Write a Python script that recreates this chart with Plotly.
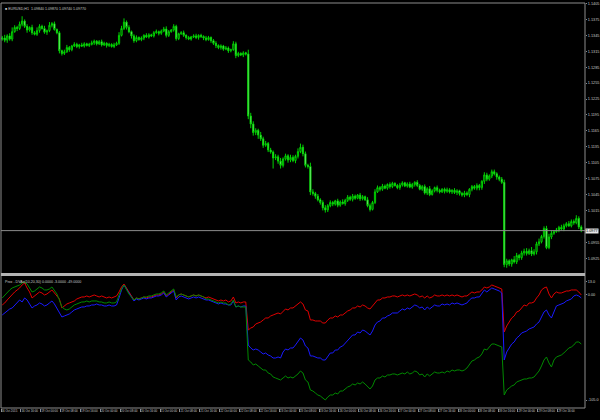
import plotly.graph_objects as go

symbol_title = "EURUSD,H1"
indicator_title = "Prox - DVAs(10,20,30)"

first_open = 1.1338
close = [
    1.1340, 1.1336, 1.1344, 1.1338, 1.1352, 1.1360, 1.1358, 1.1366, 1.1372, 1.1362,
    1.1355, 1.1360, 1.1350, 1.1347, 1.1354, 1.1362, 1.1358, 1.1351, 1.1354, 1.1364,
    1.1367, 1.1356, 1.1350, 1.1316, 1.1311, 1.1314, 1.1322, 1.1318, 1.1325, 1.1328,
    1.1324, 1.1327, 1.1325, 1.1329, 1.1326, 1.1328, 1.1331, 1.1334, 1.1329, 1.1333,
    1.1327, 1.1330, 1.1326, 1.1328, 1.1324, 1.1327, 1.1330, 1.1345, 1.1358, 1.1370,
    1.1360, 1.1352, 1.1344, 1.1335, 1.1341, 1.1337, 1.1340, 1.1345, 1.1342, 1.1346,
    1.1344, 1.1350, 1.1352, 1.1349, 1.1353, 1.1357, 1.1345, 1.1352, 1.1355, 1.1362,
    1.1339, 1.1348, 1.1350, 1.1345, 1.1341, 1.1338, 1.1342, 1.1344, 1.1341, 1.1345,
    1.1343, 1.1340, 1.1337, 1.1341, 1.1335, 1.1330, 1.1326, 1.1322, 1.1325, 1.1319,
    1.1321, 1.1316, 1.1318, 1.1329, 1.1307, 1.1311, 1.1308, 1.1312, 1.1310, 1.1193,
    1.1178, 1.1162, 1.1166, 1.1157, 1.1150, 1.1138, 1.1141, 1.1129, 1.1125, 1.1114,
    1.1116, 1.1108, 1.1100, 1.1112, 1.1118, 1.1110, 1.1115, 1.1109, 1.1117, 1.1126,
    1.1134, 1.1122, 1.1100, 1.1098, 1.1050, 1.1047, 1.1042, 1.1035, 1.1030, 1.1020,
    1.1016, 1.1024, 1.1030, 1.1027, 1.1033, 1.1025, 1.1031, 1.1028, 1.1034, 1.1040,
    1.1036, 1.1042, 1.1038, 1.1044, 1.1037, 1.1041, 1.1035, 1.1024, 1.1017, 1.1030,
    1.1050, 1.1058, 1.1055, 1.1061, 1.1057, 1.1064, 1.1060, 1.1066, 1.1062, 1.1058,
    1.1063, 1.1067, 1.1061, 1.1065, 1.1059, 1.1064, 1.1068, 1.1062, 1.1055, 1.1060,
    1.1048, 1.1056, 1.1045, 1.1052, 1.1058, 1.1053, 1.1050, 1.1055, 1.1051, 1.1054,
    1.1050, 1.1053, 1.1049, 1.1052, 1.1047, 1.1044, 1.1048, 1.1045, 1.1055, 1.1060,
    1.1057, 1.1062, 1.1058, 1.1070, 1.1082, 1.1074, 1.1080, 1.1088, 1.1084, 1.1078,
    1.1074, 1.1068, 1.0913, 1.0920, 1.0914, 1.0922, 1.0918, 1.0930, 1.0926, 1.0935,
    1.0938, 1.0934, 1.0939, 1.0933, 1.0937, 1.0952, 1.0956, 1.0966, 1.0981, 1.0945,
    1.0965, 1.0972, 1.0975, 1.0978, 1.0983, 1.0980, 1.0986, 1.0990, 1.0986, 1.0994,
    1.0992, 1.1000, 1.0984, 1.0977,
]
upper_wick_pips = [
    4, 6, 3, 5, 8, 4, 3, 5, 9, 3,
    4, 2, 5, 3, 6, 4, 3, 5, 2, 6,
    3, 4, 2, 3, 2, 4, 5, 3, 2, 4,
    3, 2, 4, 3, 2, 3, 4, 3, 2, 3,
    4, 3, 2, 3, 2, 4, 3, 6, 5, 7,
    3, 4, 2, 3, 4, 2, 3, 2, 4, 3,
    2, 3, 4, 2, 3, 4, 5, 3, 2, 4,
    3, 2, 3, 4, 2, 3, 2, 3, 4, 2,
    3, 2, 4, 3, 2, 3, 4, 2, 3, 2,
    4, 3, 2, 5, 4, 3, 2, 3, 2, 8,
    6, 5, 4, 3, 6, 4, 5, 3, 4, 3,
    5, 4, 6, 3, 4, 3, 5, 4, 3, 6,
    7, 5, 4, 3, 7, 5, 3, 4, 3, 4,
    5, 3, 4, 3, 2, 4, 3, 5, 3, 4,
    3, 4, 3, 2, 4, 3, 2, 5, 4, 3,
    5, 4, 3, 4, 3, 2, 4, 3, 2, 3,
    4, 3, 2, 3, 4, 3, 2, 4, 3, 3,
    4, 3, 5, 3, 2, 4, 3, 2, 3, 4,
    3, 2, 4, 3, 2, 3, 4, 3, 2, 3,
    3, 4, 3, 2, 5, 4, 3, 4, 4, 3,
    3, 4, 5, 4, 3, 2, 7, 5, 3, 4,
    5, 6, 4, 7, 5, 4, 6, 3, 4, 5,
    6, 5, 3, 4, 3, 5, 4, 3, 5, 4,
    4, 6, 4, 3,
]
lower_wick_pips = [
    3, 4, 5, 3, 4, 2, 5, 3, 4, 3,
    5, 3, 4, 2, 3, 4, 2, 3, 5, 3,
    4, 2, 3, 5, 4, 3, 2, 4, 3, 2,
    3, 4, 2, 3, 2, 3, 2, 4, 3, 2,
    3, 2, 4, 3, 2, 3, 2, 3, 2, 3,
    4, 3, 5, 4, 3, 2, 3, 4, 2, 3,
    2, 3, 2, 4, 3, 2, 4, 3, 2, 3,
    4, 3, 2, 3, 4, 2, 3, 2, 3, 4,
    3, 4, 3, 2, 4, 3, 5, 3, 4, 3,
    2, 4, 3, 2, 5, 3, 2, 4, 3, 6,
    8, 6, 5, 7, 4, 5, 3, 4, 3, 20,
    4, 5, 6, 4, 3, 5, 4, 3, 5, 4,
    3, 5, 4, 4, 6, 4, 5, 3, 4, 5,
    5, 4, 3, 4, 3, 4, 3, 2, 4, 3,
    3, 4, 3, 2, 4, 3, 2, 3, 4, 2,
    3, 2, 4, 3, 2, 3, 4, 3, 2, 3,
    4, 3, 2, 3, 2, 3, 4, 3, 2, 3,
    3, 4, 3, 2, 3, 4, 3, 2, 4, 3,
    3, 4, 3, 5, 4, 3, 4, 3, 5, 4,
    3, 4, 5, 4, 5, 4, 3, 4, 3, 5,
    4, 3, 5, 6, 4, 5, 3, 4, 5, 4,
    5, 4, 3, 4, 3, 5, 4, 3, 4, 3,
    3, 4, 3, 2, 4, 3, 4, 3, 2, 3,
    4, 3, 4, 3,
]

red_line = [
    -10, -8, -5, -2, 1, 3, 5, 7, 10, 12,
    7, 3, -3, -1, 1, 3, 2, 0, 1, 3,
    5, 2, -1, -4, -13, -11, -9, -8, -7, -6,
    -4, -3, -2, -2, -1, -2, -1, 0, -1, -2,
    -1, -2, -3, -2, -3, -2, -1, 3, 8, 11,
    7, 4, 0, -5, -3, -4, -3, -2, -3, -2,
    -2, -1, 0, 0, 1, 3, -1, 1, 3, 5,
    -3, 0, 1, 0, -1, -2, -1, 0, -1, 0,
    -1, -2, -3, -2, -3, -4, -5, -6, -5, -6,
    -5, -7, -6, -2, -8, -7, -8, -7, -7, -35,
    -33, -32, -29, -28, -27, -25, -23, -23, -21, -20,
    -19, -18, -19, -16, -14, -15, -13, -13, -11, -9,
    -7, -9, -15, -16, -25, -25, -26, -26, -26, -28,
    -28, -25, -23, -23, -21, -22, -20, -20, -18, -16,
    -15, -13, -13, -11, -12, -10, -11, -13, -14, -11,
    -7, -5, -5, -3, -3, -2, -2, -1, -1, -2,
    -1, 0, -1, 0, -1, 0, 1, 0, -2, -1,
    -3, -1, -3, -2, 0, -1, -1, 0, -1, 0,
    -1, 0, -1, 0, -1, -2, -1, -1, 1, 3,
    2, 3, 3, 5, 8, 7, 8, 10, 9, 8,
    7, 6, -37, -31, -27, -23, -21, -17, -16, -13,
    -10, -11, -8, -8, -7, -3, 0, 5, 7, 8,
    1, -3, 1, 3, 2, 2, 3, 4, 4, 5,
    5, 5, 3, 0,
]
blue_line = [
    -20, -18, -16, -14, -13, -10, -7, -5, -7, -3,
    -5, -9, -13, -11, -10, -8, -9, -11, -10, -8,
    -6, -9, -13, -17, -22, -21, -20, -19, -17, -15,
    -14, -13, -12, -12, -11, -11, -10, -10, -9, -10,
    -10, -11, -11, -10, -11, -11, -10, -3, 5, 10,
    6, 3, -1, -6, -4, -5, -4, -3, -4, -3,
    -3, -2, -1, -1, 0, 2, -2, 0, 2, 4,
    -5, -2, -1, -2, -3, -4, -3, -2, -3, -2,
    -3, -4, -5, -5, -6, -7, -8, -9, -8, -9,
    -9, -10, -10, -6, -12, -11, -12, -11, -11, -50,
    -53, -55, -54, -55, -57, -59, -58, -60, -61, -63,
    -63, -62, -63, -57, -54, -55, -53, -53, -50, -47,
    -43, -45, -51, -53, -61, -61, -62, -63, -63, -65,
    -65, -61, -58, -58, -55, -55, -52, -51, -48, -45,
    -43, -40, -40, -37, -38, -35, -36, -38, -40, -36,
    -30, -27, -26, -23, -23, -21, -20, -18, -18, -18,
    -16, -14, -15, -13, -14, -12, -10, -11, -13, -12,
    -15, -12, -14, -12, -10, -11, -11, -9, -10, -9,
    -10, -8, -9, -8, -9, -10, -9, -8, -5, -3,
    -3, -2, -2, 1, 5, 3, 5, 7, 6, 5,
    4, 2, -65, -57, -53, -49, -47, -43, -41, -38,
    -37, -36, -34, -33, -32, -29, -27, -22, -17, -15,
    -20, -23, -16, -11, -10, -9, -8, -6, -5, -4,
    -1, 0, -1, -3,
]
green_line = [
    -3, 0, 2, 5, 7, 8, 9, 10, 12, 13,
    11, 7, 3, 4, 6, 8, 7, 5, 5, 6,
    8, 5, 1, -5, -12, -14, -15, -14, -12, -10,
    -9, -8, -7, -7, -6, -7, -6, -6, -6, -7,
    -7, -8, -8, -7, -8, -8, -7, 0, 6, 10,
    5, 1, -2, -5, -3, -4, -3, -2, -2, -1,
    -1, 0, 1, 1, 2, 4, 0, 2, 4, 6,
    -2, 0, 1, 0, -1, -2, -1, 0, -1, 0,
    -1, -2, -4, -4, -5, -6, -7, -8, -7, -8,
    -8, -10, -9, -5, -12, -11, -12, -12, -12, -65,
    -67, -70, -69, -71, -73, -75, -75, -78, -79, -82,
    -83, -84, -85, -83, -81, -83, -82, -83, -81, -79,
    -76, -78, -85, -87, -95, -96, -98, -100, -101, -103,
    -105, -102, -100, -100, -98, -99, -96, -96, -94, -92,
    -91, -89, -90, -88, -89, -87, -89, -92, -94, -91,
    -85, -83, -83, -81, -82, -80, -80, -79, -79, -80,
    -79, -78, -79, -77, -79, -78, -76, -77, -80, -79,
    -82, -79, -81, -79, -77, -78, -78, -77, -78, -76,
    -77, -75, -76, -75, -75, -76, -75, -73, -69, -66,
    -65, -63, -62, -59, -54, -55, -52, -49, -49, -50,
    -51, -52, -100, -95, -93, -91, -90, -87, -86, -85,
    -84, -84, -83, -83, -82, -79, -76, -71, -65, -62,
    -68, -72, -65, -62, -61, -60, -58, -55, -53, -52,
    -50, -47, -47, -49,
]

price_ticks = [1.1405, 1.1375, 1.1345, 1.1315, 1.1285, 1.1255, 1.1225, 1.1195,
               1.1165, 1.1135, 1.1105, 1.1075, 1.1045, 1.1015, 1.0955, 1.0925]
time_labels = ["16 Oct 2015", "16 Oct 16:00", "19 Oct 00:00", "19 Oct 08:00", "19 Oct 16:00",
               "20 Oct 00:00", "20 Oct 08:00", "20 Oct 16:00", "21 Oct 00:00", "21 Oct 08:00",
               "21 Oct 16:00", "22 Oct 00:00", "22 Oct 08:00", "22 Oct 16:00", "23 Oct 00:00",
               "23 Oct 08:00", "23 Oct 16:00", "26 Oct 00:00", "26 Oct 08:00", "26 Oct 16:00",
               "27 Oct 00:00", "27 Oct 08:00", "27 Oct 16:00", "28 Oct 00:00", "28 Oct 08:00",
               "28 Oct 16:00", "29 Oct 00:00", "29 Oct 08:00", "29 Oct 16:00"]
label_every = 8

n = len(close)
opens = [first_open] + close[:-1]
highs = [round(max(o, c) + u * 0.0001, 5) for o, c, u in zip(opens, close, upper_wick_pips)]
lows = [round(min(o, c) - w * 0.0001, 5) for o, c, w in zip(opens, close, lower_wick_pips)]
idx = list(range(n))

FONT = "Liberation Sans"
TXT = "#c8c8c8"
FRAME = "#8c8c8c"

fig = go.Figure()
fig.add_trace(go.Candlestick(
    x=idx, open=opens, high=highs, low=lows, close=close,
    increasing=dict(line=dict(color="#00d200", width=1), fillcolor="#000000"),
    decreasing=dict(line=dict(color="#00d200", width=1), fillcolor="#e8ffe8"),
    whiskerwidth=0, xaxis="x", yaxis="y", showlegend=False, hoverinfo="skip"))

for vals, col in [(red_line, "#e00000"), (blue_line, "#1a1aff"), (green_line, "#008a00")]:
    fig.add_trace(go.Scatter(x=idx, y=vals, mode="lines", line=dict(color=col, width=1),
                             xaxis="x", yaxis="y2", showlegend=False, hoverinfo="skip"))

last = close[-1]
ind_max = max(max(red_line), max(blue_line), max(green_line))
ind_min = min(min(red_line), min(blue_line), min(green_line))

fig.update_layout(
    width=600, height=420,
    margin=dict(l=1, r=15, t=3, b=12, autoexpand=False),
    paper_bgcolor="#000000", plot_bgcolor="#000000",
    font=dict(family=FONT, color=TXT, size=4),
    hovermode=False,
    xaxis=dict(range=[-0.5, n + 0.5], anchor="y2", showgrid=False, zeroline=False,
               automargin=False, rangeslider=dict(visible=False),
               tickvals=[label_every * k - 0.5 for k in range(len(time_labels))],
               ticktext=time_labels, ticks="outside", ticklen=3, tickcolor=FRAME,
               tickangle=0, ticklabelposition="outside right",
               tickfont=dict(size=2.9, color=TXT, family=FONT)),
    yaxis=dict(domain=[0.3358, 1.0], range=[1.0899, 1.1406], side="right", anchor="x",
               showgrid=False, zeroline=False, automargin=False, tickvals=price_ticks,
               ticktext=[f"{v:.4f}" for v in price_ticks],
               ticks="outside", ticklen=1, tickcolor=FRAME,
               tickfont=dict(size=3.8, color=TXT, family=FONT)),
    yaxis2=dict(domain=[0.0, 0.3235], range=[-113, 18], side="right", anchor="x",
                showgrid=False, zeroline=False, automargin=False,
                tickvals=[ind_max, 0, ind_min],
                ticktext=[f"{ind_max:.1f}", "0.00", f"{ind_min:.1f}"],
                ticks="outside", ticklen=1, tickcolor=FRAME,
                tickfont=dict(size=3.8, color=TXT, family=FONT)),
    shapes=[
        dict(type="rect", xref="paper", yref="paper", x0=0, x1=1, y0=0, y1=1,
             line=dict(color=FRAME, width=1)),
        dict(type="line", xref="paper", yref="paper", x0=0, x1=1, y0=0.3296, y1=0.3296,
             line=dict(color="#b4b4b4", width=3)),
        dict(type="line", xref="paper", yref="y", x0=0, x1=1, y0=last, y1=last,
             line=dict(color="#8c8c8c", width=1)),
    ],
    annotations=[
        dict(xref="paper", yref="paper", x=0.004, y=0.995, xanchor="left", yanchor="top",
             showarrow=False,
             text=f"■ {symbol_title}  {opens[-1]:.5f} {highs[-1]:.5f} {lows[-1]:.5f} {close[-1]:.5f}",
             font=dict(size=3.6, color=TXT, family=FONT)),
        dict(xref="paper", yref="paper", x=0.004, y=0.321, xanchor="left", yanchor="top",
             showarrow=False,
             text=f"{indicator_title} {red_line[-1]:.4f} {blue_line[-1]:.4f} {green_line[-1]:.4f}",
             font=dict(size=3.6, color=TXT, family=FONT)),
        dict(xref="paper", yref="y", x=1, y=last, xanchor="left", yanchor="middle",
             xshift=0, showarrow=False, text=f"{last:.4f}", bgcolor="#e6e6e6",
             borderpad=0, font=dict(size=3.8, color="#000000", family=FONT)),
    ],
)

fig.write_html(
    "out.html",
    config={"displayModeBar": False, "staticPlot": True},
    post_script="document.body.style.margin='0';document.body.style.background='#000';"
                "document.documentElement.style.overflow='hidden';",
)
